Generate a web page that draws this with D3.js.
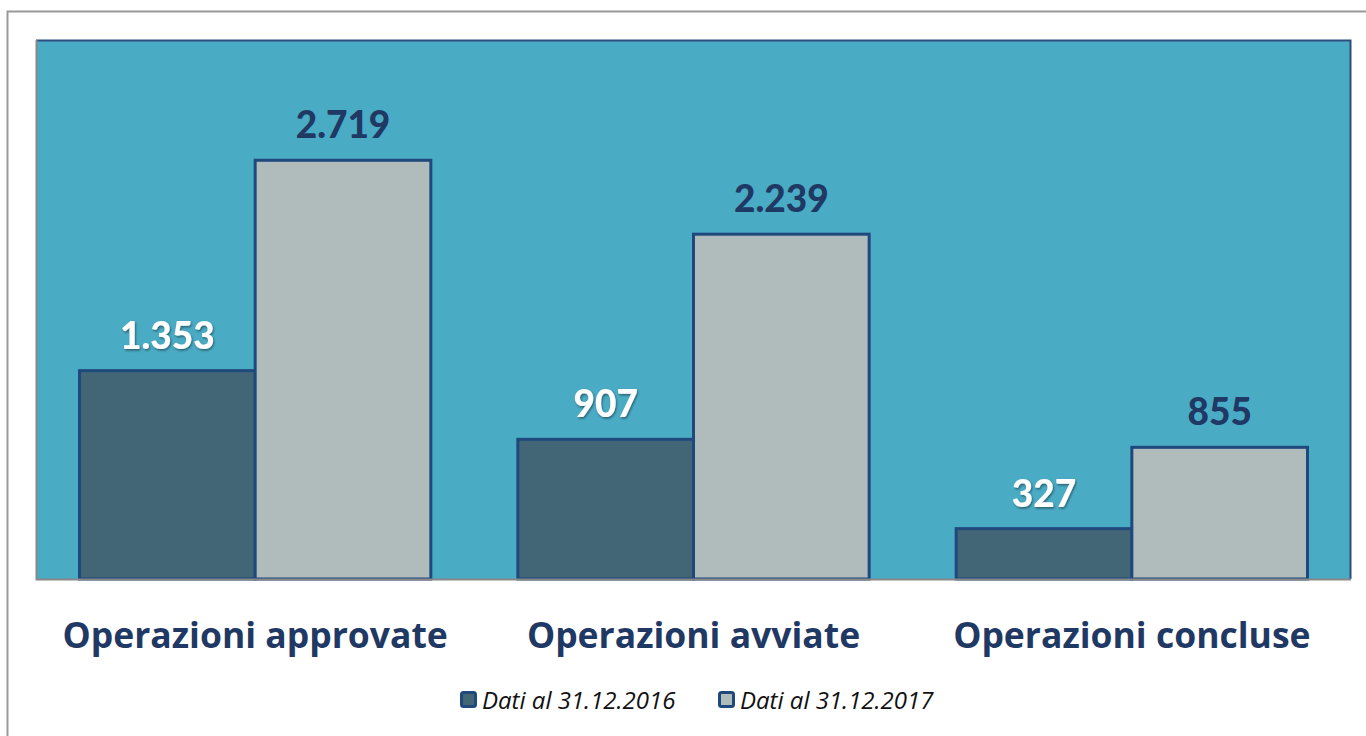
<!DOCTYPE html>
<html>
<head>
<meta charset="utf-8">
<script src="https://cdn.jsdelivr.net/npm/d3@7"></script>
<style>
  body { margin: 0; background: #fff; }
</style>
</head>
<body>
<div id="chart"></div>
<script>
var categories = ["Operazioni approvate", "Operazioni avviate", "Operazioni concluse"];
var seriesNames = ["Dati al 31.12.2016", "Dati al 31.12.2017"];
var values2016 = [1353, 907, 327];
var values2017 = [2719, 2239, 855];
var labels2016 = ["1.353", "907", "327"];
var labels2017 = ["2.719", "2.239", "855"];

var W = 1366, H = 736;
var plot = {left: 36, top: 40, right: 1351, bottom: 579};
var width = plot.right - plot.left,
    height = plot.bottom - plot.top;

var svg = d3.select("#chart")
  .append("svg")
    .attr("width", W)
    .attr("height", H);

var defs = svg.append("defs");
var f = defs.append("filter").attr("id", "shadow")
    .attr("x", "-20%").attr("y", "-20%").attr("width", "140%").attr("height", "140%");
f.append("feDropShadow")
    .attr("dx", 1).attr("dy", 1.5).attr("stdDeviation", 1.2)
    .attr("flood-color", "#000").attr("flood-opacity", 0.45);

// outer frame
svg.append("rect")
    .attr("x", 7.5).attr("y", 11.5)
    .attr("width", W + 20).attr("height", H + 20)
    .attr("fill", "#fff")
    .attr("stroke", "#999").attr("stroke-width", 2);

var g = svg.append("g")
    .attr("transform", "translate(" + plot.left + "," + plot.top + ")");

g.append("rect")
    .attr("width", width).attr("height", height)
    .attr("fill", "#4aabc5");
// top/right borders of plot area
g.append("path")
    .attr("d", "M0,0.5H" + (width - 0.5) + "V" + height)
    .attr("fill", "none").attr("stroke", "#2a4f80").attr("stroke-width", 2);

var x0 = d3.scaleBand()
    .domain(categories)
    .range([0, width])
    .paddingInner(0)
    .paddingOuter(0);

var x1 = d3.scaleBand()
    .domain(seriesNames)
    .range([43.5, x0.bandwidth() - 43.5]);

var y = d3.scaleLinear()
    .domain([0, 3500])
    .range([height, 0]);

var data = categories.map(function(c, i) {
  return [
    {cat: c, s: seriesNames[0], v: values2016[i], label: labels2016[i]},
    {cat: c, s: seriesNames[1], v: values2017[i], label: labels2017[i]}
  ];
});

var fills = {};
fills[seriesNames[0]] = "#426676";
fills[seriesNames[1]] = "#b0bcbc";

var groups = g.selectAll(".grp")
    .data(data)
  .enter().append("g")
    .attr("class", "grp")
    .attr("transform", function(d) { return "translate(" + x0(d[0].cat) + ",0)"; });

groups.selectAll("rect")
    .data(function(d) { return d; })
  .enter().append("rect")
    .attr("x", function(d) { return x1(d.s); })
    .attr("width", x1.bandwidth())
    .attr("y", function(d) { return y(d.v); })
    .attr("height", function(d) { return height - y(d.v); })
    .attr("fill", function(d) { return fills[d.s]; })
    .attr("stroke", "#1f497d")
    .attr("stroke-width", 3);

groups.selectAll(".val")
    .data(function(d) { return d; })
  .enter().append("text")
    .attr("class", "val")
    .attr("x", function(d) { return x1(d.s) + x1.bandwidth() / 2; })
    .attr("y", function(d) { return y(d.v) - 22; })
    .attr("text-anchor", "middle")
    .style("font-family", "Lato, sans-serif")
    .style("font-size", "37px")
    .style("font-weight", "900")
    .attr("fill", function(d) { return d.s === seriesNames[0] ? "#fff" : "#1f3864"; })
    .attr("filter", function(d) { return d.s === seriesNames[0] ? "url(#shadow)" : null; })
    .text(function(d) { return d.label; });

// axis lines (left and bottom)
g.append("path")
    .attr("d", "M0.5,0V" + (height + 0.5) + "H" + width)
    .attr("fill", "none").attr("stroke", "#888").attr("stroke-width", 2);

// category labels
var xAxis = g.append("g")
    .attr("transform", "translate(0," + height + ")")
    .call(d3.axisBottom(x0).tickSize(0).tickPadding(0));
xAxis.select(".domain").remove();
xAxis.selectAll("text")
    .attr("y", 0)
    .attr("dy", 0)
    .attr("transform", "translate(0,69)")
    .style("font-family", "'Open Sans', sans-serif")
    .style("font-size", "35.5px")
    .style("font-weight", "bold")
    .attr("fill", "#1f3864");

// legend
var legend = svg.append("g").attr("transform", "translate(0,700)");
var legendX = [460, 718];
seriesNames.forEach(function(s, i) {
  var lg = legend.append("g").attr("transform", "translate(" + legendX[i] + ",0)");
  lg.append("rect")
      .attr("x", 1.5).attr("y", -7.5)
      .attr("width", 14).attr("height", 14)
      .attr("rx", 2)
      .attr("fill", fills[s])
      .attr("stroke", "#1f497d").attr("stroke-width", 3);
  lg.append("text")
      .attr("x", 22).attr("y", 9)
      .style("font-family", "'Open Sans', sans-serif")
      .style("font-size", "24px")
      .style("font-style", "italic")
      .attr("fill", "#111")
      .text(s);
});
</script>
</body>
</html>
